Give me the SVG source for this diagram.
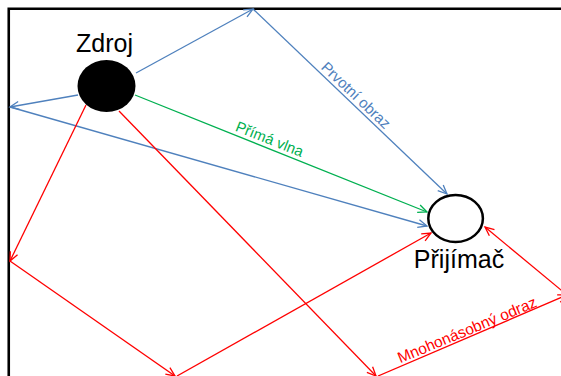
<svg xmlns="http://www.w3.org/2000/svg" width="561" height="376" viewBox="0 0 561 376">
<style>
.lbl{font-family:"Liberation Sans",Arial,sans-serif}
.node{font-size:25px;fill:#000}
.b{stroke:#4F81BD;stroke-width:1.3;fill:none}
.g{stroke:#00B050;stroke-width:1.3;fill:none}
.r{stroke:#FF0000;stroke-width:1.3;fill:none}
</style>
<defs>
<marker id="ab" markerUnits="userSpaceOnUse" markerWidth="20" markerHeight="20" viewBox="-10 -10 20 20" refX="0" refY="0" orient="auto"><path d="M-9,-4 L0,0 L-9,4" fill="none" stroke="#4F81BD" stroke-width="1.3"/></marker>
<marker id="ag" markerUnits="userSpaceOnUse" markerWidth="20" markerHeight="20" viewBox="-10 -10 20 20" refX="0" refY="0" orient="auto"><path d="M-9,-4 L0,0 L-9,4" fill="none" stroke="#00B050" stroke-width="1.3"/></marker>
<marker id="ar" markerUnits="userSpaceOnUse" markerWidth="20" markerHeight="20" viewBox="-10 -10 20 20" refX="0" refY="0" orient="auto"><path d="M-9,-4 L0,0 L-9,4" fill="none" stroke="#FF0000" stroke-width="1.3"/></marker>
</defs>
<rect width="561" height="376" fill="#fff"/>
<path d="M8.75,376 V8.75 H561" fill="none" stroke="#000" stroke-width="2.6"/>
<g id="connectors">
<line class="b" x1="136" y1="73" x2="253" y2="9" marker-end="url(#ab)"/>
<line class="b" x1="253" y1="9" x2="447" y2="194" marker-end="url(#ab)"/>
<line class="b" x1="78" y1="95" x2="10" y2="107" marker-end="url(#ab)"/>
<line class="b" x1="10" y1="107" x2="427" y2="226" marker-end="url(#ab)"/>
<line class="g" x1="135" y1="95" x2="427" y2="212" marker-end="url(#ag)"/>
<line class="r" x1="86" y1="105" x2="10" y2="261" marker-end="url(#ar)"/>
<line class="r" x1="10" y1="261" x2="175" y2="376" marker-end="url(#ar)"/>
<line class="r" x1="177" y1="376" x2="431" y2="233" marker-end="url(#ar)"/>
<line class="r" x1="119" y1="111" x2="376" y2="376" marker-end="url(#ar)"/>
<line class="r" x1="378" y1="376" x2="567" y2="295" marker-end="url(#ar)"/>
<line class="r" x1="567" y1="295" x2="485" y2="227" marker-end="url(#ar)"/>
<text class="lbl" transform="translate(350,101.5) rotate(43.64)" x="0" y="-3.5" text-anchor="middle" font-size="15" fill="#4F81BD">Prvotní obraz</text>
<text class="lbl" transform="translate(266.3,147.6) rotate(21.84)" x="0" y="-4" text-anchor="middle" font-size="15" fill="#00B050">Přímá vlna</text>
<text class="lbl" transform="translate(469.9,336.7) rotate(-22.5)" x="0" y="-2" text-anchor="middle" font-size="15.5" fill="#FF0000">Mnohonásobný odraz</text>
</g>
<g id="zdroj">
<ellipse cx="106.5" cy="86" rx="29" ry="26" fill="#000"/>
<text class="lbl node" x="104.5" y="52" text-anchor="middle">Zdroj</text>
</g>
<g id="prijimac">
<ellipse cx="455.6" cy="218.5" rx="27.3" ry="23.5" fill="#fff" stroke="#000" stroke-width="2.5"/>
<text class="lbl node" x="459" y="268" text-anchor="middle">Přijímač</text>
</g>
</svg>
